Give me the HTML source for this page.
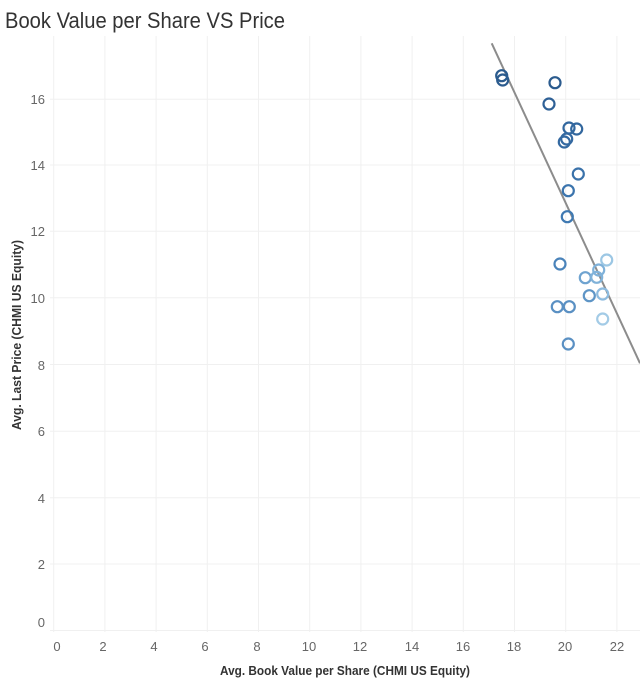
<!DOCTYPE html>
<html><head><style>
body{margin:0;background:#fff;}
svg{font-family:"Liberation Sans",sans-serif;display:block}
</style></head><body>
<svg width="640" height="686" viewBox="0 0 640 686">
<text x="5" y="28" font-size="22" fill="#333" textLength="280" lengthAdjust="spacingAndGlyphs">Book Value per Share VS Price</text>
<g stroke="#f0f0f0" stroke-width="1">
<line x1="53.7" y1="36" x2="53.7" y2="632"/><line x1="104.9" y1="36" x2="104.9" y2="632"/><line x1="156.1" y1="36" x2="156.1" y2="632"/><line x1="207.3" y1="36" x2="207.3" y2="632"/><line x1="258.5" y1="36" x2="258.5" y2="632"/><line x1="309.7" y1="36" x2="309.7" y2="632"/><line x1="360.9" y1="36" x2="360.9" y2="632"/><line x1="412.1" y1="36" x2="412.1" y2="632"/><line x1="463.3" y1="36" x2="463.3" y2="632"/><line x1="514.5" y1="36" x2="514.5" y2="632"/><line x1="565.7" y1="36" x2="565.7" y2="632"/><line x1="616.9" y1="36" x2="616.9" y2="632"/>
<line x1="50" y1="630.5" x2="640" y2="630.5"/><line x1="50" y1="564" x2="640" y2="564"/><line x1="50" y1="497.7" x2="640" y2="497.7"/><line x1="50" y1="431.3" x2="640" y2="431.3"/><line x1="50" y1="364.5" x2="640" y2="364.5"/><line x1="50" y1="297.7" x2="640" y2="297.7"/><line x1="50" y1="231.3" x2="640" y2="231.3"/><line x1="50" y1="165" x2="640" y2="165"/><line x1="50" y1="99.3" x2="640" y2="99.3"/>
</g>
<g font-size="13" fill="#666" text-anchor="end">
<text x="45" y="627">0</text><text x="45" y="569">2</text><text x="45" y="503">4</text><text x="45" y="436">6</text><text x="45" y="370">8</text><text x="45" y="303">10</text><text x="45" y="236">12</text><text x="45" y="170">14</text><text x="45" y="104">16</text>
</g>
<g font-size="13" fill="#666" text-anchor="middle">
<text x="57" y="651">0</text><text x="103" y="651">2</text><text x="154" y="651">4</text><text x="205" y="651">6</text><text x="257" y="651">8</text><text x="309" y="651">10</text><text x="360" y="651">12</text><text x="412" y="651">14</text><text x="463" y="651">16</text><text x="514" y="651">18</text><text x="565" y="651">20</text><text x="617" y="651">22</text>
</g>
<text x="220" y="675" font-size="13" fill="#333" font-weight="bold" textLength="250" lengthAdjust="spacingAndGlyphs">Avg. Book Value per Share  (CHMI US Equity)</text>
<text transform="translate(21,430) rotate(-90)" font-size="13" fill="#333" font-weight="bold" textLength="190" lengthAdjust="spacingAndGlyphs">Avg. Last Price  (CHMI US Equity)</text>
<line x1="491.7" y1="43.3" x2="640" y2="363.3" stroke="#8c8c8c" stroke-width="2"/>
<g fill="none" stroke-width="2.2">
<circle cx="501.7" cy="75.7" r="5.5" stroke="#2b5b8e"/><circle cx="502.7" cy="80" r="5.5" stroke="#2b5b8e"/><circle cx="555" cy="82.7" r="5.5" stroke="#2b5b8e"/><circle cx="549" cy="104" r="5.5" stroke="#2e6096"/><circle cx="569" cy="128" r="5.5" stroke="#32679e"/><circle cx="576.7" cy="129" r="5.5" stroke="#32679e"/><circle cx="566.7" cy="139" r="5.5" stroke="#3469a1"/><circle cx="564.3" cy="142" r="5.5" stroke="#3469a1"/><circle cx="578.3" cy="174" r="5.5" stroke="#3a72aa"/><circle cx="568.3" cy="190.7" r="5.5" stroke="#3b74ad"/><circle cx="567.3" cy="216.7" r="5.5" stroke="#3f79b2"/><circle cx="560" cy="264" r="5.5" stroke="#4a83ba"/><circle cx="606.7" cy="260" r="5.5" stroke="#9cc7e4"/><circle cx="598.7" cy="270" r="5.5" stroke="#7fb1d9"/><circle cx="585.3" cy="277.7" r="5.5" stroke="#6fa3d0"/><circle cx="596.7" cy="277.3" r="5.5" stroke="#80b2d9"/><circle cx="589.3" cy="295.7" r="5.5" stroke="#5e95c6"/><circle cx="602.7" cy="294" r="5.5" stroke="#8dbbdf"/><circle cx="557.3" cy="306.7" r="5.5" stroke="#5a90c3"/><circle cx="569.3" cy="306.7" r="5.5" stroke="#5a90c3"/><circle cx="602.7" cy="319" r="5.5" stroke="#a3cbe6"/><circle cx="568.3" cy="344" r="5.5" stroke="#5a90c3"/>
</g>
</svg>
</body></html>
